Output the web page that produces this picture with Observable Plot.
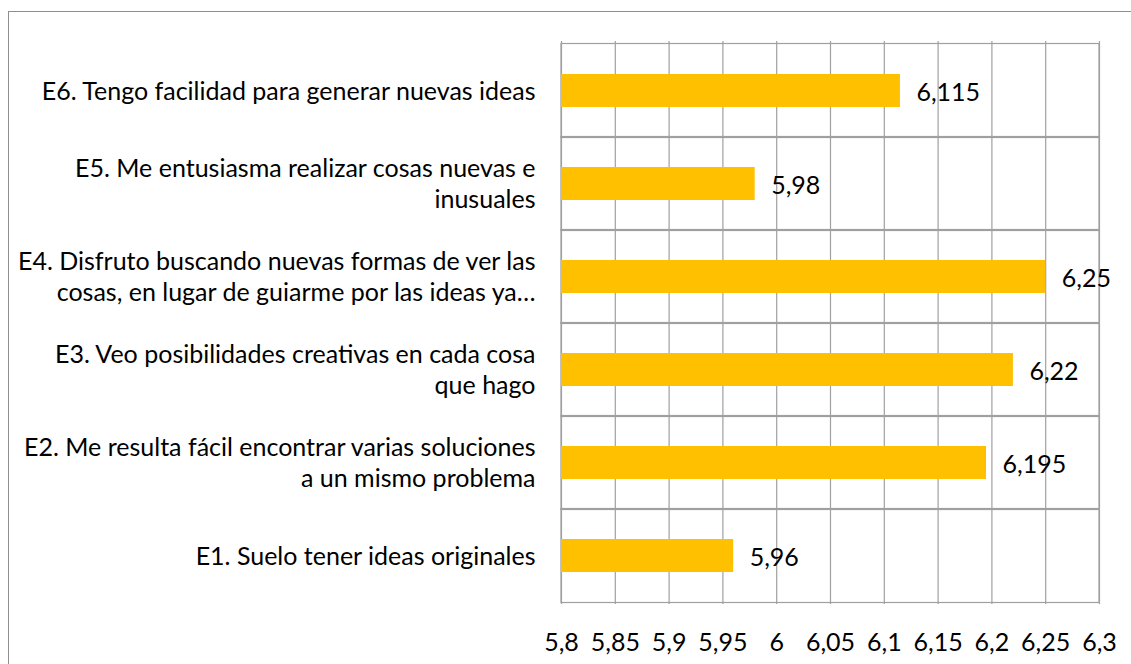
<!DOCTYPE html>
<html>
<head>
<meta charset="utf-8">
<script src="https://cdn.jsdelivr.net/npm/d3@7"></script>
<script src="https://cdn.jsdelivr.net/npm/@observablehq/plot@0.6"></script>
<style>
  html, body { margin: 0; padding: 0; background: #fff; }
  #wrap { position: relative; width: 1131px; height: 664px; overflow: hidden; }
  #border { position: absolute; left: 8px; top: 11px; width: 1300px; height: 800px; border-left: 1px solid #8f8f8f; border-top: 1px solid #8f8f8f; }
  #chart { position: absolute; left: 0; top: 0; }
</style>
</head>
<body>
<div id="wrap"><div id="border"></div><div id="chart"></div></div>
<script>
const categories = [
  "E6. Tengo facilidad para generar nuevas ideas",
  "E5. Me entusiasma realizar cosas nuevas e\ninusuales",
  "E4. Disfruto buscando nuevas formas de ver las\ncosas, en lugar de guiarme por las ideas ya…",
  "E3. Veo posibilidades creativas en cada cosa\nque hago",
  "E2. Me resulta fácil encontrar varias soluciones\na un mismo problema",
  "E1. Suelo tener ideas originales"
];
const values = [6.115, 5.98, 6.25, 6.22, 6.195, 5.96];
const xTicks = [5.8, 5.85, 5.9, 5.95, 6, 6.05, 6.1, 6.15, 6.2, 6.25, 6.3];
const xMin = 5.8, xMax = 6.3;

const data = categories.map((c, i) => ({cat: c, value: values[i]}));
const fmt = v => String(v).replace(".", ",");

const padInner = 0.65;
const plotTop = 41, plotBottom = 604;
const step = (plotBottom - plotTop) / categories.length;
const halfGap = step * padInner / 2;
const fs = 25;

const chart = Plot.plot({
  width: 1131,
  height: 664,
  marginLeft: 561,
  marginRight: 32,
  marginTop: plotTop,
  marginBottom: 664 - plotBottom,
  style: {fontFamily: "Lato, 'Liberation Sans', sans-serif", fontSize: fs + "px", color: "#000", background: "transparent"},
  x: {domain: [xMin, xMax], ticks: xTicks},
  y: {domain: categories, paddingInner: padInner, paddingOuter: padInner / 2},
  marks: [
    Plot.ruleX(xTicks, {stroke: "#a0a0a0", strokeWidth: 1.2, strokeOpacity: 1}),
    Plot.barX(categories, {y: d => d, x1: xMin, x2: xMax, fill: "none", stroke: "#a0a0a0", strokeWidth: 1.2, insetTop: -halfGap, insetBottom: -halfGap}),
    Plot.barX(data, {y: "cat", x1: xMin, x2: "value", fill: "#FFC000"}),
    Plot.text(data, {y: "cat", x: "value", text: d => fmt(d.value), dx: 16, dy: 2, textAnchor: "start", fill: "#000", fontSize: fs}),
    Plot.text(data, {y: "cat", x: xMin, text: "cat", dx: -26, dy: -1, textAnchor: "end", fill: "#000", fontSize: fs, lineHeight: 1.24}),
    Plot.axisX({ticks: xTicks, tickSize: 0, tickPadding: 29, tickFormat: fmt, fontSize: fs, label: null}),
    Plot.axisY({ticks: [], label: null})
  ]
});
document.getElementById("chart").appendChild(chart);
</script>
</body>
</html>
